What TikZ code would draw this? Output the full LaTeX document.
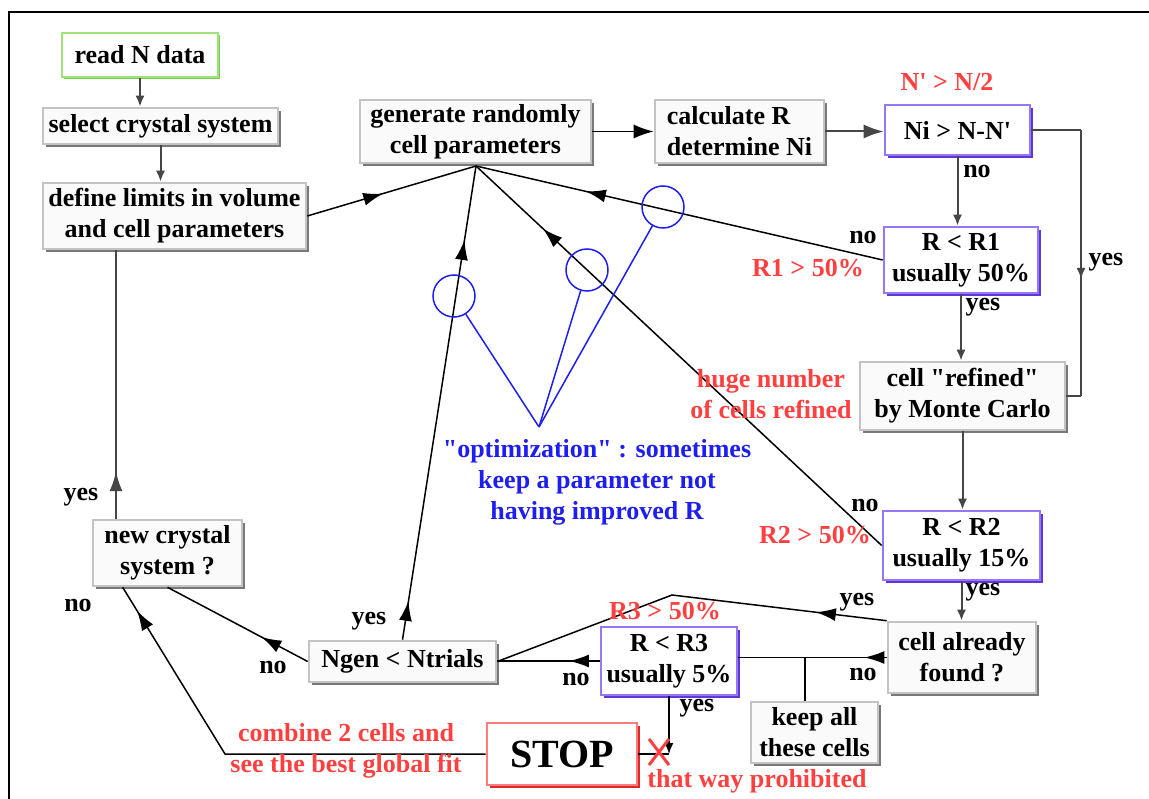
\documentclass[tikz,border=0pt]{standalone}
\usepackage{fontspec}
\setmainfont{Liberation Serif}
\usetikzlibrary{arrows.meta,decorations.markings,shadows,calc}
\definecolor{redtxt}{RGB}{255,64,64}
\definecolor{bluetxt}{RGB}{30,30,240}
\definecolor{boxgray}{RGB}{195,195,195}
\definecolor{shadgray}{RGB}{120,120,120}
\definecolor{purp}{RGB}{150,120,245}
\definecolor{purpdark}{RGB}{95,55,215}
\definecolor{grn}{RGB}{160,225,120}
\definecolor{grndark}{RGB}{125,205,85}
\definecolor{stopred}{RGB}{255,125,125}
\definecolor{stopdark}{RGB}{225,40,40}
\definecolor{linegray}{RGB}{70,70,70}
\begin{document}
\begin{tikzpicture}[x=1pt,y=-1pt,
  every node/.style={font=\fontsize{26}{31}\selectfont\bfseries, inner sep=0pt},
  basebox/.style={line width=2.6pt, align=center},
  graybox/.style={basebox, draw=boxgray, fill=gray!4,
    drop shadow={shadow xshift=3.2pt, shadow yshift=-3.2pt, fill=shadgray, opacity=1}},
  purpbox/.style={basebox, draw=purp, fill=white,
    drop shadow={shadow xshift=3.2pt, shadow yshift=-3.2pt, fill=purpdark, opacity=1}},
  greenbox/.style={basebox, draw=grn, fill=white,
    drop shadow={shadow xshift=2.2pt, shadow yshift=-2.2pt, fill=grndark, opacity=1}},
  stopbox/.style={basebox, draw=stopred, fill=white,
    drop shadow={shadow xshift=3.2pt, shadow yshift=-3.2pt, fill=stopdark, opacity=1}},
  lbl/.style={text=black},
  redlbl/.style={text=redtxt, align=center},
  bluelbl/.style={text=bluetxt, align=center},
  conn/.style={draw=linegray, line width=2pt},
  diag/.style={draw=black, line width=1.5pt},
  smalltip/.style={-{Latex[length=11pt,width=9pt]}},
  bigtip/.style={-{Latex[length=20pt,width=14pt]}},
  midarrow/.style={postaction={decorate,decoration={markings,
    mark=at position #1 with {\arrow{Latex[length=20pt,width=13pt]}}}}},
  smidarrow/.style={postaction={decorate,decoration={markings,
    mark=at position #1 with {\arrow{Latex[length=11pt,width=9pt]}}}}},
  bluecirc/.style={circle, draw=bluetxt, line width=1.5pt, minimum size=42pt},
  blueline/.style={draw=bluetxt, line width=1.5pt}
]
\useasboundingbox (0,0) rectangle (1149,799);
\fill[white] (0,0) rectangle (1149,799);
\draw[line width=2pt] (9,799) -- (9,12) -- (1149,12);

% boxes
\node[greenbox, minimum width=156pt, minimum height=44pt] (read) at (140,55) {read N data};
\node[graybox, minimum width=235pt, minimum height=36pt] (select) at (160.5,126) {select crystal system};
\node[graybox, minimum width=263pt, minimum height=66pt] (define) at (174.5,216) {define limits in volume\\and cell parameters};
\node[graybox, minimum width=231pt, minimum height=63pt] (generate) at (475.5,131.5) {generate randomly\\cell parameters};
\node[graybox, minimum width=169pt, minimum height=63pt, align=left] (calculate) at (739.5,131.5) {calculate R\\determine Ni};
\node[purpbox, minimum width=145pt, minimum height=50pt] (Ni) at (957.5,130) {Ni > N-N\textquotesingle};
\node[purpbox, minimum width=154pt, minimum height=66pt] (R1) at (961,260) {R < R1\\usually 50\%};
\node[graybox, minimum width=205pt, minimum height=68pt] (refined) at (962.5,396) {cell \textquotedbl refined\textquotedbl\\by Monte Carlo};
\node[purpbox, minimum width=157pt, minimum height=69pt] (R2) at (961.5,545.5) {R < R2\\usually 15\%};
\node[graybox, minimum width=148pt, minimum height=71pt] (found) at (962,657.5) {cell already\\found ?};
\node[purpbox, minimum width=136pt, minimum height=68pt] (R3) at (669,661) {R < R3\\usually 5\%};
\node[graybox, minimum width=127pt, minimum height=61pt] (keep) at (814.5,732.5) {keep all\\these cells};
\node[stopbox, minimum width=150pt, minimum height=62pt, font=\fontsize{40}{44}\selectfont\bfseries] (stop) at (562,754) {STOP};
\node[graybox, minimum width=187pt, minimum height=41pt] (ngen) at (402.5,661.5) {Ngen < Ntrials};
\node[graybox, minimum width=149pt, minimum height=66pt] (newcs) at (167.5,553) {new crystal\\system ?};

% connection points
\coordinate (C) at (476,166);
\coordinate (lt) at (1081,130);
\coordinate (lb) at (1081,396);
\coordinate (peak) at (672,595);
\coordinate (K) at (805,657.5);
\coordinate (sl) at (225,754);
\coordinate (ncin) at ($(newcs.south west)+(31,0)$);
\coordinate (ncup) at (116,0);

% connectors
\draw[conn, smalltip] (read.south) -- (read.south |- select.north);
\draw[conn, smalltip] (select.south) -- (select.south |- define.north);
\draw[diag, midarrow=0.45] (define.east) -- (C);
\draw[diag, bigtip] (generate.east) -- (calculate.west);
\draw[conn, bigtip] (calculate.east) -- (calculate.east -| Ni.west);
\draw[conn, smalltip] (Ni.south) -- (Ni.south |- R1.north);
\draw[conn] (Ni.east) -- (lt);
\draw[conn, smidarrow=0.56] (lt) -- (lb);
\draw[conn] (lb) -- (refined.east);
\draw[conn, smalltip] (R1.south) -- (R1.south |- refined.north);
\draw[diag, midarrow=0.73] (R1.west) -- (C);
\draw[conn, smalltip] (refined.south) -- (refined.south |- R2.north);
\draw[diag, midarrow=0.835] (R2.west) -- (C);
\draw[conn, smalltip] (R2.south) -- (R2.south |- found.north);
\draw[diag, midarrow=0.177] (found.north west) -- (peak) -- (ngen.east);
\draw[diag, midarrow=0.15] (found.west) -- (found.west -| R3.east);
\draw[diag] (K) -- (K |- keep.north);
\draw[diag, midarrow=0.3] (R3.west) -- (R3.west -| ngen.east);
\draw[diag, smalltip] (R3.south) -- (R3.south |- stop.east);
\draw[diag] (R3.south |- stop.east) -- (stop.east);
\draw[diag, midarrow=0.33] (ngen.west) -- (newcs.south);
\draw[diag, midarrow=0.082, midarrow=0.844] (ngen.north) -- (C);
\draw[conn, midarrow=0.177] (newcs.north -| ncup) -- (define.south -| ncup);
\draw[diag, midarrow=0.94] (stop.west) -- (sl) -- (ncin);

% red X
\draw[redtxt, line width=3pt] (649,739) -- (669,765);
\draw[redtxt, line width=3pt] (669,739) -- (649,765);

% blue circles
\node[bluecirc] (c1) at (454,296) {};
\node[bluecirc] (c2) at (587,270) {};
\node[bluecirc] (c3) at (663,207) {};
\coordinate (apex) at (539,427);
\draw[blueline] (c1) -- (apex);
\draw[blueline] (c2) -- (apex);
\draw[blueline] (c3) -- (apex);
\node[bluelbl] (opt) at (597,482) {\textquotedbl optimization\textquotedbl{} : sometimes\\keep a parameter not\\having improved R};

% labels
\node[lbl] (l1) at (977,172) {no};
\node[lbl] (l2) at (983,307) {yes};
\node[lbl] (l3) at (1106,262) {yes};
\node[lbl] (l4) at (863,238) {no};
\node[lbl] (l5) at (865,506) {no};
\node[lbl] (l6) at (983,592) {yes};
\node[lbl] (l7) at (857,602) {yes};
\node[lbl] (l8) at (863,674) {no};
\node[lbl] (l9) at (576,679) {no};
\node[lbl] (l10) at (697,708) {yes};
\node[lbl] (l11) at (369,621) {yes};
\node[lbl] (l12) at (273,667) {no};
\node[lbl] (l13) at (81,497) {yes};
\node[lbl] (l14) at (78,605) {no};

% red annotations
\node[redlbl] (r1) at (947,82) {N\textquotesingle{} > N/2};
\node[redlbl] (r2) at (808,268) {R1 > 50\%};
\node[redlbl] (r3) at (771,394) {huge number\\of cells refined};
\node[redlbl] (r4) at (815,535) {R2 > 50\%};
\node[redlbl] (r5) at (665,611) {R3 > 50\%};
\node[redlbl] (r6) at (346,751) {combine 2 cells and\\see the best global fit};
\node[redlbl] (r7) at (757,781) {that way prohibited};
\end{tikzpicture}
\end{document}
